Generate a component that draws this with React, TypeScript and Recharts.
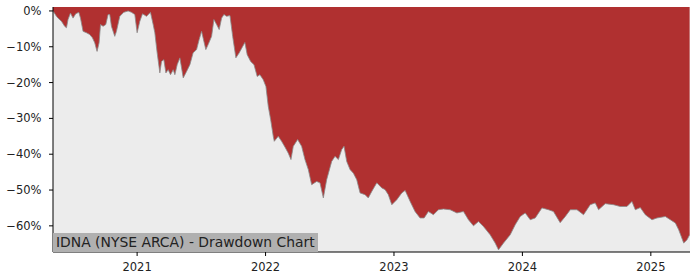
import {
  Area,
  CartesianGrid,
  ComposedChart,
  XAxis,
  YAxis,
} from 'recharts';

// dates as decimal years, drawdown in percent
const dates = [
  2020.345, 2020.372, 2020.384, 2020.411, 2020.436, 2020.45, 2020.462, 2020.481, 2020.501,
  2020.522, 2020.546, 2020.559, 2020.579, 2020.606, 2020.631, 2020.652, 2020.67, 2020.688,
  2020.704, 2020.715, 2020.735, 2020.756, 2020.774, 2020.787, 2020.8, 2020.826, 2020.839,
  2020.865, 2020.896, 2020.93, 2020.956, 2020.982, 2021.0, 2021.021, 2021.042, 2021.073,
  2021.104, 2021.125, 2021.138, 2021.156, 2021.177, 2021.19, 2021.208, 2021.224, 2021.242,
  2021.26, 2021.281, 2021.294, 2021.312, 2021.333, 2021.359, 2021.385, 2021.411, 2021.436,
  2021.463, 2021.483, 2021.502, 2021.52, 2021.535, 2021.553, 2021.58, 2021.598, 2021.619,
  2021.639, 2021.658, 2021.676, 2021.697, 2021.723, 2021.744, 2021.769, 2021.795, 2021.822,
  2021.839, 2021.857, 2021.884, 2021.91, 2021.935, 2021.956, 2021.982, 2022.003, 2022.021,
  2022.04, 2022.06, 2022.068, 2022.099, 2022.125, 2022.151, 2022.177, 2022.198, 2022.216,
  2022.25, 2022.281, 2022.307, 2022.333, 2022.359, 2022.398, 2022.424, 2022.45, 2022.476,
  2022.515, 2022.541, 2022.567, 2022.593, 2022.611, 2022.632, 2022.658, 2022.684, 2022.71,
  2022.736, 2022.775, 2022.8, 2022.827, 2022.866, 2022.905, 2022.931, 2022.956, 2022.983,
  2023.022, 2023.061, 2023.087, 2023.126, 2023.164, 2023.203, 2023.235, 2023.268, 2023.307,
  2023.346, 2023.385, 2023.437, 2023.49, 2023.541, 2023.58, 2023.619, 2023.658, 2023.697,
  2023.749, 2023.788, 2023.814, 2023.853, 2023.905, 2023.944, 2023.983, 2024.022, 2024.061,
  2024.1, 2024.152, 2024.203, 2024.242, 2024.294, 2024.334, 2024.373, 2024.425, 2024.476,
  2024.528, 2024.567, 2024.593, 2024.645, 2024.71, 2024.762, 2024.814, 2024.853, 2024.879,
  2024.918, 2024.957, 2025.009, 2025.048, 2025.113, 2025.152, 2025.191, 2025.217, 2025.256,
  2025.282, 2025.302,
];

const drawdown = [
  0, -1.5, -2.0, -2.9, -4.3, -4.7, -2.4, -0.6, -2.0,
  -0.8, -0.4, -2.0, -5.7, -6.1, -6.6, -7.5, -8.9, -11.3,
  -8.9, -3.8, -4.3, -3.8, -1.0, -1.0, -4.3, -7.1, -5.7,
  -1.5, -0.4, 0, -0.4, -1.0, -6.1, -2.9, -0.8, -1.5,
  -0.4, -3.8, -6.1, -11.7, -17.3, -14.1, -13.6, -17.3, -16.4,
  -17.8, -16.4, -17.8, -15.0, -13.1, -18.7, -16.9, -15.0, -11.7,
  -10.8, -8.0, -5.7, -8.5, -10.8, -9.4, -7.1, -2.4, -3.8,
  -5.2, -2.0, -1.0, -1.5, -1.3, -7.1, -13.1, -11.7, -9.9,
  -8.8, -12.2, -14.1, -15.0, -18.3, -17.8, -19.2, -21.1, -26.6,
  -30.4, -35.0, -36.4, -35.0, -36.4, -38.0, -39.7, -41.5, -37.8,
  -35.9, -37.8, -41.5, -44.3, -48.5, -47.6, -48.0, -52.2, -47.1,
  -42.0, -40.6, -41.5, -38.7, -37.8, -42.0, -44.3, -45.3, -47.1,
  -50.8, -51.3, -52.2, -50.4, -48.0, -49.4, -49.9, -51.3, -54.1,
  -52.7, -50.8, -50.1, -53.2, -56.0, -57.8, -57.8, -56.0, -56.9,
  -55.5, -55.3, -55.5, -56.4, -56.0, -58.3, -60.0, -58.8, -60.2,
  -62.5, -64.8, -66.7, -64.8, -62.5, -59.7, -57.4, -56.4, -58.3,
  -57.8, -55.0, -55.5, -56.0, -59.1, -57.4, -55.5, -55.5, -56.9,
  -54.1, -53.6, -55.5, -53.8, -54.1, -54.6, -54.6, -53.2, -55.5,
  -54.9, -56.9, -58.3, -57.8, -57.4, -58.3, -59.2, -61.1, -64.8,
  -63.9, -62.5,
];

const yearTicks = [2021, 2022, 2023, 2024, 2025];
const pctTicks = [0, -10, -20, -30, -40, -50, -60];
const title = 'IDNA (NYSE ARCA) - Drawdown Chart';

const data = dates.map((t, i) => ({ t, dd: drawdown[i] }));

const Y_TOP = 1.1;
const Y_BOTTOM = -67.3;

const tickStyle = {
  fontSize: 11.5,
  fill: '#222',
  fontFamily: 'DejaVu Sans',
};

const fmtPct = (v: number) => (v < 0 ? '\u2212' + Math.abs(v) : String(v)) + '%';

export default function App() {
  return (
    <div style={{ position: 'fixed', left: 0, top: 0, width: 700, height: 280, background: '#fff' }}>
      <ComposedChart
        width={700}
        height={280}
        data={data}
        margin={{ top: 7, right: 10, bottom: 0, left: 0 }}
      >
        <CartesianGrid fill='#ececec' horizontal={false} vertical={false} />
        <XAxis
          dataKey='t'
          type='number'
          domain={[2020.345, 2025.305]}
          allowDataOverflow
          ticks={yearTicks}
          tickFormatter={(v: number) => String(v)}
          stroke='#000'
          tickSize={4}
          tickMargin={7}
          height={28}
          tick={tickStyle}
          interval={0}
        />
        <XAxis xAxisId='top' orientation='top' type='number' domain={[0, 1]} height={0} tick={false} tickLine={false} stroke='#000' />
        <YAxis
          type='number'
          domain={[Y_BOTTOM, Y_TOP]}
          allowDataOverflow
          ticks={pctTicks}
          tickFormatter={fmtPct}
          stroke='#000'
          tickSize={4}
          tickMargin={7.5}
          width={53}
          tick={tickStyle}
          interval={0}
        />
        <YAxis yAxisId='right' orientation='right' type='number' domain={[0, 1]} width={0} tick={false} tickLine={false} stroke='#000' />
        <Area
          type='linear'
          dataKey='dd'
          baseValue={Y_TOP}
          fill='#b03030'
          fillOpacity={1}
          stroke='#8a8a8a'
          strokeWidth={0.8}
          dot={false}
          activeDot={false}
          isAnimationActive={false}
        />
      </ComposedChart>
      <div
        style={{
          position: 'absolute',
          left: 53,
          top: 233,
          height: 19,
          lineHeight: '19px',
          padding: '0 3px',
          background: '#b0b0b0',
          color: '#222',
          fontFamily: 'DejaVu Sans',
          fontSize: 13.9,
          whiteSpace: 'nowrap',
        }}
      >
        {title}
      </div>
    </div>
  );
}
